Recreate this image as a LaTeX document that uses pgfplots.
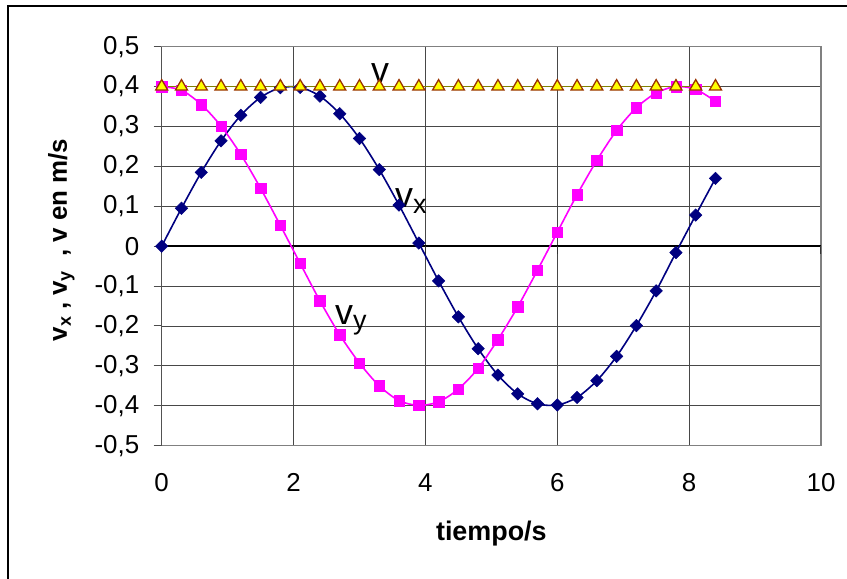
\documentclass[border=0pt]{standalone}
\usepackage{fontspec}
\setmainfont{Liberation Sans}
\usepackage{pgfplots}
\pgfplotsset{compat=1.18}

\definecolor{vxcol}{HTML}{000080}
\definecolor{vycol}{HTML}{FF00FF}
\definecolor{vline}{HTML}{808000}
\definecolor{vedge}{HTML}{993300}
\definecolor{vfill}{HTML}{FFFF00}

\newcommand{\lowsub}[3]{\raisebox{-#1}{\fontsize{#2}{#2}\selectfont #3}}

\begin{document}
\begin{tikzpicture}
\begin{axis}[
  at={(0,0)}, anchor=south west,
  scale only axis, width=659.3bp, height=399bp,
  xmin=0, xmax=10, ymin=-0.5, ymax=0.5,
  xtick={0,2,4,6,8,10},
  ytick={-0.5,-0.4,-0.3,-0.2,-0.1,0,0.1,0.2,0.3,0.4,0.5},
  grid=major,
  grid style={black!72, line width=0.9bp},
  axis line style={black!50, line width=1.5bp},
  tick align=outside,
  major tick length=8bp,
  xtick pos=bottom, ytick pos=left,
  xtick style={draw=none},
  ytick style={draw=black!70, line width=1bp},
  tick label style={font=\fontsize{26}{30}\selectfont},
  xticklabel style={yshift=-16bp},
  yticklabel style={xshift=-11bp},
  /pgf/number format/use comma,
  /pgf/number format/fixed,
  /pgf/number format/precision=1,
  /pgf/number format/assume math mode=true,
  xlabel={tiempo/s},
  xlabel style={font=\fontsize{27}{32}\selectfont\bfseries,
    at={(axis description cs:0.5,0)}, anchor=base, yshift=-94.3bp},
]

\draw[black, line width=1.5bp] (axis cs:0,-0.5) -- (axis cs:0,0.5);
\draw[black, line width=1.5bp] (axis cs:0,0) -- (axis cs:10,0);
\pgfplotsinvokeforeach{0,2,4,6,8,10}{
  \draw[black!80, line width=1.2bp] (axis cs:#1,0) -- ++(0pt,-8bp);
}

% v_x
\addplot[smooth, color=vxcol, line width=1.6bp, mark=square*, mark size=4.4bp,
  mark options={rotate=45, fill=vxcol, draw=vxcol, line width=0.5bp}]
table {
X Y
0.0 0.000
0.3 0.095
0.6 0.185
0.9 0.264
1.2 0.328
1.5 0.373
1.8 0.397
2.1 0.398
2.4 0.376
2.7 0.332
3.0 0.270
3.3 0.192
3.6 0.103
3.9 0.008
4.2 -0.087
4.5 -0.177
4.8 -0.257
5.1 -0.323
5.4 -0.370
5.7 -0.395
6.0 -0.398
6.3 -0.379
6.6 -0.337
6.9 -0.276
7.2 -0.199
7.5 -0.112
7.8 -0.016
8.1 0.078
8.4 0.170
};

% v_y
\addplot[smooth, color=vycol, line width=1.6bp, mark=square*, mark size=5.2bp,
  mark options={fill=vycol, draw=vycol, line width=0.5bp}]
table {
X Y
0.0 0.400
0.3 0.391
0.6 0.355
0.9 0.301
1.2 0.230
1.5 0.145
1.8 0.052
2.1 -0.043
2.4 -0.137
2.7 -0.222
3.0 -0.293
3.3 -0.350
3.6 -0.387
3.9 -0.399
4.2 -0.390
4.5 -0.358
4.8 -0.306
5.1 -0.234
5.4 -0.152
5.7 -0.060
6.0 0.035
6.3 0.129
6.6 0.215
6.9 0.290
7.2 0.347
7.5 0.384
7.8 0.400
8.1 0.393
8.4 0.363
};

% v
\addplot[color=vline, line width=1.8bp, mark=triangle*, mark size=7bp,
  mark options={fill=vfill, draw=vedge, line width=1.3bp}]
table {
X Y
0.0 0.4
0.3 0.4
0.6 0.4
0.9 0.4
1.2 0.4
1.5 0.4
1.8 0.4
2.1 0.4
2.4 0.4
2.7 0.4
3.0 0.4
3.3 0.4
3.6 0.4
3.9 0.4
4.2 0.4
4.5 0.4
4.8 0.4
5.1 0.4
5.4 0.4
5.7 0.4
6.0 0.4
6.3 0.4
6.6 0.4
6.9 0.4
7.2 0.4
7.5 0.4
7.8 0.4
8.1 0.4
8.4 0.4
};

\node[anchor=base, inner sep=0pt, font=\fontsize{36}{40}\selectfont]
  at (axis cs:3.311,0.4115) {v};
\node[anchor=base west, inner sep=0pt, font=\fontsize{36}{40}\selectfont]
  at (axis cs:3.539,0.098) {v\lowsub{6bp}{27}{x}};
\node[anchor=base west, inner sep=0pt, font=\fontsize{36}{40}\selectfont]
  at (axis cs:2.629,-0.195) {v\lowsub{5bp}{27}{y}};
\end{axis}

\node[rotate=90, anchor=base, inner sep=0pt, font=\fontsize{26}{30}\selectfont\bfseries]
  at (-94.7bp,205.7bp)
  {v\lowsub{4bp}{18}{x} , v\lowsub{4bp}{18}{y}\ \ , v en m/s};

\draw[black, line width=1.2bp] (-153.7bp,-140bp) -- (-153.7bp,439.7bp) -- (700bp,439.7bp);

\pgfresetboundingbox
\useasboundingbox (-161.7bp,-133.3bp) rectangle (685.3bp,445.7bp);
\end{tikzpicture}
\end{document}
